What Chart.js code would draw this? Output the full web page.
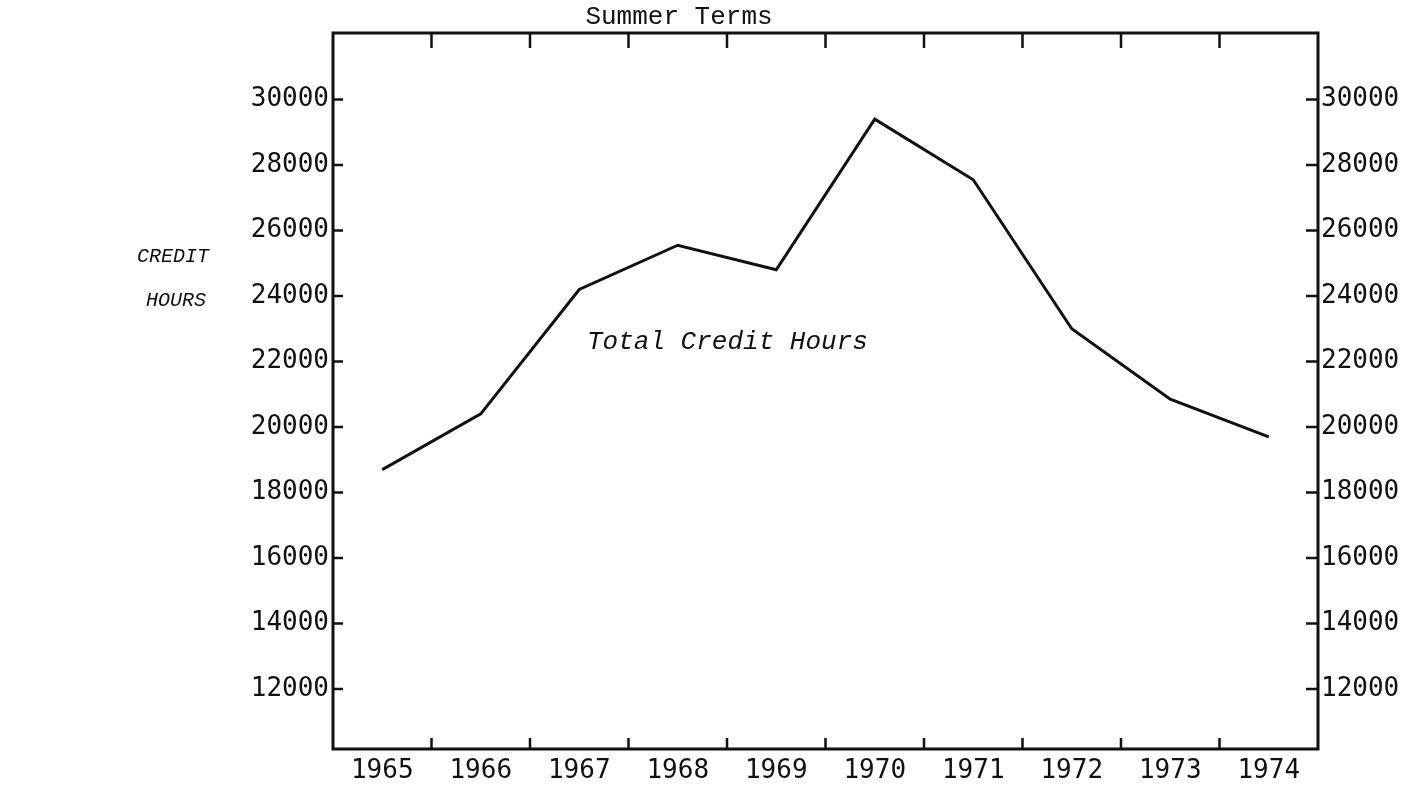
<!DOCTYPE html>
<html>
<head>
<meta charset="utf-8">
<script src="https://cdn.jsdelivr.net/npm/chart.js@4.4.1/dist/chart.umd.min.js"></script>
<style>
  html, body { margin: 0; padding: 0; background: #fff; }
  #wrap { width: 1421px; height: 785px; position: relative; }
</style>
</head>
<body>
<div id="wrap"><canvas id="chart"></canvas></div>
<script>
// data
const years = ['1965', '1966', '1967', '1968', '1969', '1970', '1971', '1972', '1973', '1974'];
const creditHours = [18700, 20400, 24200, 25550, 24800, 29400, 27550, 23000, 20850, 19700];
const yTickValues = [12000, 14000, 16000, 18000, 20000, 22000, 24000, 26000, 28000, 30000];

const Y_MIN = 10170;
const Y_MAX = 32030;
const INK = '#111';
const tickFont = { family: 'DejaVu Sans Mono', size: 26 };

// frame, inward tick marks and the typed labels
const framePlugin = {
  id: 'frame',
  afterDraw(c) {
    const ctx = c.ctx;
    const a = c.chartArea;
    const x = c.scales.x;
    const y = c.scales.y;
    ctx.save();
    ctx.strokeStyle = INK;
    ctx.lineWidth = 3;
    ctx.strokeRect(a.left, a.top, a.right - a.left, a.bottom - a.top);

    ctx.lineWidth = 2.5;
    ctx.beginPath();
    // x ticks sit between the years
    for (let i = 0; i < years.length - 1; i++) {
      const px = (x.getPixelForValue(i) + x.getPixelForValue(i + 1)) / 2;
      ctx.moveTo(px, a.top);
      ctx.lineTo(px, a.top + 15);
      ctx.moveTo(px, a.bottom);
      ctx.lineTo(px, a.bottom - 11);
    }
    yTickValues.forEach(v => {
      const py = y.getPixelForValue(v);
      ctx.moveTo(a.left, py);
      ctx.lineTo(a.left + 10, py);
      ctx.moveTo(a.right, py);
      ctx.lineTo(a.right - 12, py);
    });
    ctx.stroke();

    ctx.fillStyle = INK;
    ctx.textBaseline = 'middle';
    ctx.textAlign = 'center';
    ctx.font = '26px "Liberation Mono"';
    ctx.fillText('Summer Terms', 679, 17);

    ctx.textAlign = 'left';
    ctx.font = 'italic 26px "Liberation Mono"';
    ctx.fillText('Total Credit Hours', 587, 342);
    ctx.font = 'italic 20px "Liberation Mono"';
    ctx.fillText('CREDIT', 137, 257);
    ctx.fillText('HOURS', 146, 301);
    ctx.restore();
  }
};

function setTicks(scale) {
  scale.ticks = yTickValues.map(v => ({ value: v }));
}

const plain = v => String(v);

const cfg = {
  type: 'line',
  data: {
    labels: years,
    datasets: [{
      data: creditHours,
      borderColor: INK,
      borderWidth: 3,
      pointRadius: 0,
      tension: 0,
      fill: false,
      yAxisID: 'y'
    }]
  },
  options: {
    responsive: false,
    animation: false,
    layout: { padding: { top: 33, left: 0, right: 0, bottom: 0 } },
    plugins: { legend: { display: false }, tooltip: { enabled: false } },
    scales: {
      x: {
        type: 'category',
        offset: true,
        grid: { display: false, drawTicks: false },
        border: { display: false },
        ticks: { color: INK, font: tickFont, padding: 7, maxRotation: 0, autoSkip: false },
        afterFit(s) { s.height = 36; }
      },
      y: {
        position: 'left',
        min: Y_MIN,
        max: Y_MAX,
        afterBuildTicks: setTicks,
        grid: { display: false, drawTicks: false },
        border: { display: false },
        ticks: { color: INK, font: tickFont, padding: 4, callback: plain },
        afterFit(s) { s.width = 333; }
      },
      y2: {
        position: 'right',
        min: Y_MIN,
        max: Y_MAX,
        afterBuildTicks: setTicks,
        grid: { display: false, drawTicks: false },
        border: { display: false },
        ticks: { color: INK, font: tickFont, padding: 3, callback: plain },
        afterFit(s) { s.width = 103; }
      }
    }
  },
  plugins: [framePlugin]
};

const canvas = document.getElementById('chart');
canvas.width = 1421;
canvas.height = 785;
new Chart(canvas.getContext('2d'), cfg);
</script>
</body>
</html>
